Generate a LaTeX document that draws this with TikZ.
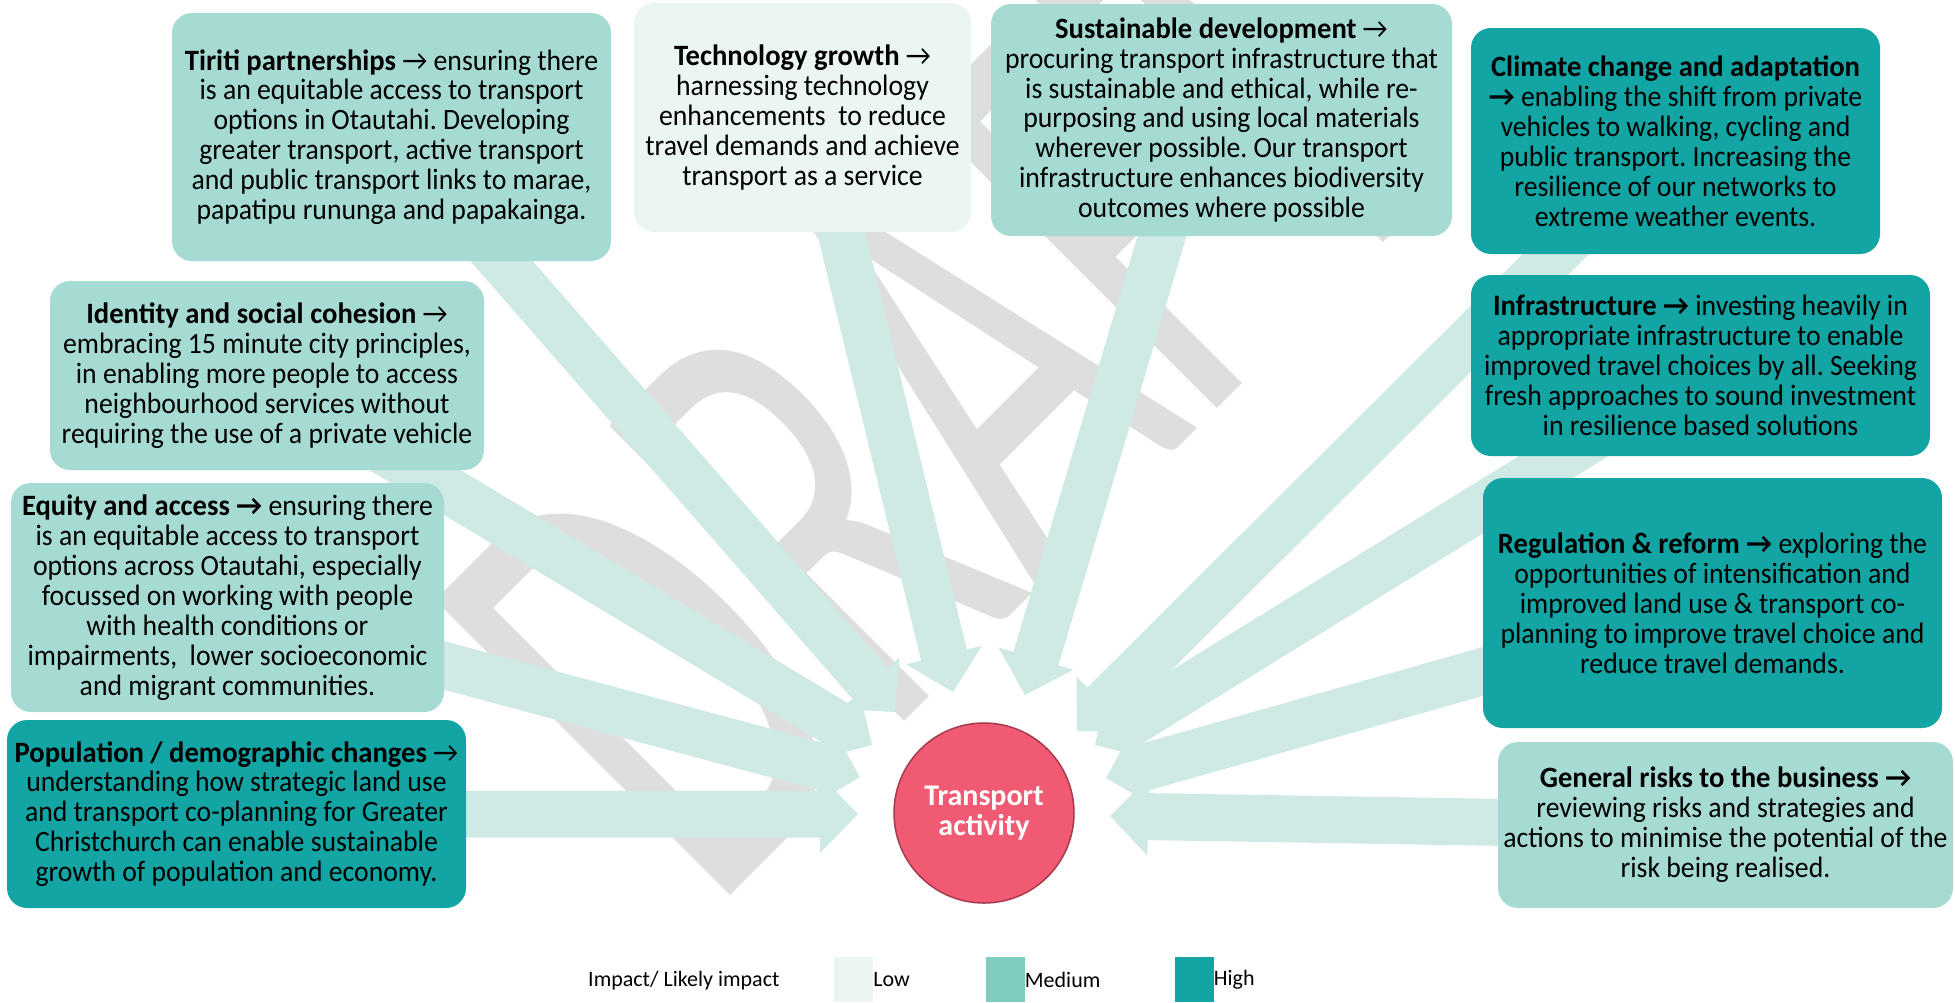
\documentclass[tikz,border=0pt]{standalone}
\usepackage{fontspec}
\setmainfont{Carlito}[UprightFeatures={FakeStretch=0.94}, BoldFeatures={FakeStretch=0.97}]
\newfontfamily\plainfont{Carlito}
\usetikzlibrary{calc}
\frenchspacing

\definecolor{lowc}{HTML}{EBF6F4}
\definecolor{medc}{HTML}{A6DBD4}
\definecolor{medkey}{HTML}{7FCDC0}
\definecolor{highc}{HTML}{13A4A4}
\definecolor{flow}{HTML}{CFE9E4}
\definecolor{wmark}{HTML}{DEDEDE}
\definecolor{hubfill}{HTML}{F05B73}
\definecolor{hubedge}{HTML}{A83A4E}

\tikzset{
  card/.style={rounded corners=20pt, inner sep=0pt, align=center,
    font=\fontsize{29.5}{29.9}\selectfont, text=black},
  lowcard/.style={card, fill=lowc},
  medcard/.style={card, fill=medc},
  highcard/.style={card, fill=highc},
  keybox/.style={inner sep=0pt, minimum width=39pt, minimum height=45pt},
  keytext/.style={anchor=west, inner sep=0pt, font=\plainfont\fontsize{22}{26}\selectfont, text=black},
}

% block arrow from tail coordinate #1 to tip coordinate #2
\newcommand\blockarrow[2]{%
  \coordinate (ab) at ($(#2)!38pt!(#1)$);
  \fill[flow] ($(#1)!23.5pt!90:(#2)$) -- ($(ab)!23.5pt!-90:(#1)$)
    -- ($(ab)!39pt!-90:(#1)$) -- (#2) -- ($(ab)!39pt!90:(#1)$)
    -- ($(ab)!23.5pt!90:(#1)$) -- ($(#1)!23.5pt!-90:(#2)$) -- cycle;}

\begin{document}
\begin{tikzpicture}[x=1pt,y=-1pt]
\useasboundingbox (0,0) rectangle (1955,1002);
\fill[white] (0,0) rectangle (1955,1002);

% watermark
\begin{scope}[shift={(733,893)}, rotate=45, xscale=0.61]
  \node[anchor=base west, inner sep=0pt, text=wmark,
        font=\plainfont\fontsize{650}{650}\selectfont, transform shape] (draft) at (-49pt,0pt) {DRAFT};
\end{scope}

% arrow end points
\coordinate (tiriti-tail) at (474.5,230);  \coordinate (tiriti-tip) at (895,712);
\coordinate (ident-tail)  at (375,446);    \coordinate (ident-tip)  at (872,745);
\coordinate (equity-tail) at (420,659);    \coordinate (equity-tip) at (860,777);
\coordinate (popul-tail)  at (440,814);    \coordinate (popul-tip)  at (858,814);
\coordinate (tech-tail)   at (837,216);    \coordinate (tech-tip)   at (953,692);
\coordinate (sust-tail)   at (1165,226);   \coordinate (sust-tip)   at (1025,695);
\coordinate (clim-tail)   at (1587,223);   \coordinate (clim-tip)   at (1077,731);
\coordinate (infra-tail)  at (1606,430);   \coordinate (infra-tip)  at (1095,745);
\coordinate (regul-tail)  at (1520,661);   \coordinate (regul-tip)  at (1106,778);
\coordinate (risk-tail)   at (1540,823);   \coordinate (risk-tip)   at (1110,816);

\blockarrow{tiriti-tail}{tiriti-tip}
\blockarrow{ident-tail}{ident-tip}
\blockarrow{equity-tail}{equity-tip}
\blockarrow{popul-tail}{popul-tip}
\blockarrow{tech-tail}{tech-tip}
\blockarrow{sust-tail}{sust-tip}
\blockarrow{clim-tail}{clim-tip}
\blockarrow{infra-tail}{infra-tip}
\blockarrow{regul-tail}{regul-tip}
\blockarrow{risk-tail}{risk-tip}

% factor cards
\node[medcard, minimum width=439pt, minimum height=248pt] (tiriti) at (391.5,137)
 {\textbf{Tiriti partnerships} → ensuring there\\is an equitable access to transport\\options in Otautahi. Developing\\greater transport, active transport\\and public transport links to marae,\\papatipu rununga and papakainga.};

\node[lowcard, minimum width=337pt, minimum height=229pt] (tech) at (802.5,117.5)
 {\textbf{Technology growth} →\\harnessing technology\\enhancements\ \ to reduce\\travel demands and achieve\\transport as a service};

\node[medcard, minimum width=461pt, minimum height=232pt] (sust) at (1221.5,120)
 {\textbf{Sustainable development} →\\procuring transport infrastructure that\\is sustainable and ethical, while re-\\purposing and using local materials\\wherever possible. Our transport\\infrastructure enhances biodiversity\\outcomes where possible};

\node[highcard, minimum width=409pt, minimum height=226pt] (clim) at (1675.5,141)
 {\textbf{Climate change and adaptation}\\\textbf{→} enabling the shift from private\\vehicles to walking, cycling and\\public transport. Increasing the\\resilience of our networks to\\extreme weather events.};

\node[highcard, minimum width=459pt, minimum height=181pt] (infra) at (1700.5,365.5)
 {\textbf{Infrastructure →} investing heavily in\\appropriate infrastructure to enable\\improved travel choices by all. Seeking\\fresh approaches to sound investment\\in resilience based solutions};

\node[highcard, minimum width=459pt, minimum height=250pt] (regul) at (1712.5,603)
 {\textbf{Regulation \& reform →} exploring the\\opportunities of intensification and\\improved land use \& transport co-\\planning to improve travel choice and\\reduce travel demands.};

\node[medcard, minimum width=455pt, minimum height=166pt] (risk) at (1725.5,825)
 {\textbf{General risks to the business →}\\reviewing risks and strategies and\\actions to minimise the potential of the\\risk being realised.};

\node[medcard, minimum width=434pt, minimum height=189pt] (ident) at (267,375.5)
 {\textbf{Identity and social cohesion} →\\embracing 15 minute city principles,\\in enabling more people to access\\neighbourhood services without\\requiring the use of a private vehicle};

\node[medcard, minimum width=433pt, minimum height=229pt] (equity) at (227.5,597.5)
 {\textbf{Equity and access →} ensuring there\\is an equitable access to transport\\options across Otautahi, especially\\focussed on working with people\\with health conditions or\\impairments,\ \ lower socioeconomic\\and migrant communities.};

\node[highcard, minimum width=459pt, minimum height=188pt] (popul) at (236.5,814)
 {\textbf{Population / demographic changes} →\\understanding how strategic land use\\and transport co-planning for Greater\\Christchurch can enable sustainable\\growth of population and economy.};

% hub
\node[circle, fill=hubfill, draw=hubedge, line width=1.5pt, minimum size=180pt,
      inner sep=0pt, align=center, text=white,
      font=\plainfont\fontsize{30}{30}\selectfont\bfseries] (hub) at (984,813) {Transport\\activity};

% legend
\node[keytext] (keytitle) at (588,981) {Impact/ Likely impact};
\node[keybox, fill=lowc] (keylow) at (853.5,979.5) {};
\node[keytext] at (keylow.east) {Low};
\node[keybox, fill=medkey] (keymed) at (1005,979.5) {};
\node[keytext] at (keymed.east) {Medium};
\node[keybox, fill=highc] (keyhigh) at (1194,979.5) {};
\node[keytext] at (keyhigh.east) {High};
\end{tikzpicture}
\end{document}
